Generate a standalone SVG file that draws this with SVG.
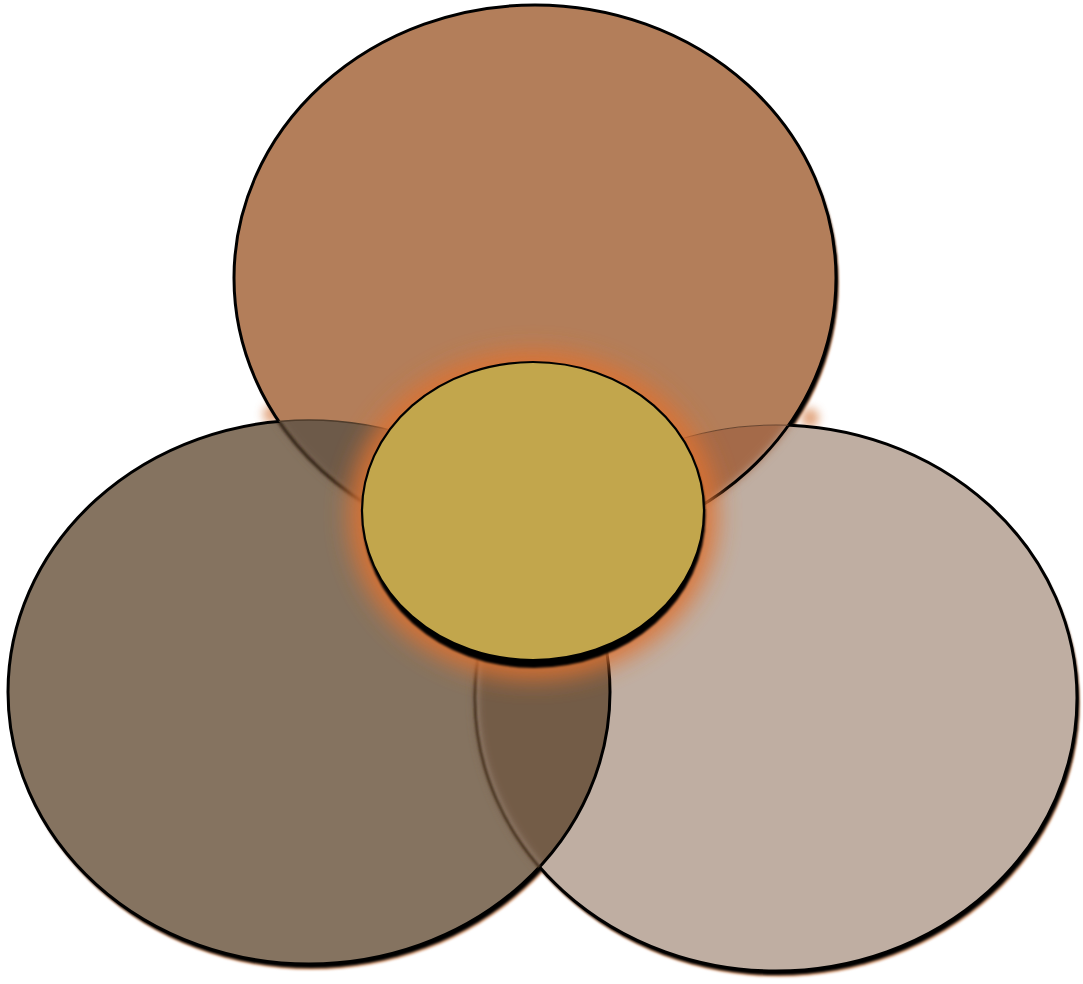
<svg xmlns="http://www.w3.org/2000/svg" width="1083" height="984" viewBox="0 0 1083 984">
  <defs>
    <style>
      .shO { fill: #D7A27F; }
      .shK { fill: #000000; }
      .edge { fill: none; stroke: #000; stroke-width: 3; }
    </style>
    <filter id="b1" x="-10%" y="-10%" width="120%" height="120%"><feGaussianBlur stdDeviation="1.2"/></filter>
    <filter id="b4" x="-10%" y="-10%" width="120%" height="120%"><feGaussianBlur stdDeviation="5"/></filter>
    <filter id="glow" x="-30%" y="-30%" width="160%" height="160%"><feGaussianBlur stdDeviation="12"/></filter>
    <filter id="glowS" x="-80%" y="-80%" width="260%" height="260%"><feGaussianBlur stdDeviation="5"/></filter>
    <ellipse id="eT" cx="535" cy="278" rx="301" ry="273"/>
    <ellipse id="eL" cx="309" cy="692" rx="301" ry="272"/>
    <ellipse id="eR" cx="776" cy="698" rx="301" ry="273"/>
    <clipPath id="cT"><use href="#eT"/></clipPath>
    <clipPath id="cL"><use href="#eL"/></clipPath>
    <clipPath id="cR"><use href="#eR"/></clipPath>
    <mask id="mOutL"><rect width="1083" height="984" fill="#fff"/><use href="#eL" fill="#000"/></mask>
    <mask id="mOutT"><rect width="1083" height="984" fill="#fff"/><use href="#eT" fill="#000"/></mask>
    <mask id="mOutTL"><rect width="1083" height="984" fill="#fff"/><use href="#eT" fill="#000"/><use href="#eL" fill="#000"/></mask>
  </defs>

  <!-- outer shadows and glows -->
  <g id="shadows">
    <ellipse cx="272" cy="414" rx="9" ry="10" fill="#D98A58" opacity="0.75" filter="url(#glowS)"/>
    <ellipse cx="810" cy="418" rx="9" ry="10" fill="#D98A58" opacity="0.75" filter="url(#glowS)"/>
    <use href="#eT" class="shO" transform="translate(3,6)" filter="url(#b1)"/>
    <use href="#eL" class="shO" transform="translate(3,6)" filter="url(#b1)"/>
    <use href="#eR" class="shO" transform="translate(3,6)" filter="url(#b1)"/>
    <use href="#eT" class="shK" transform="translate(2,4)" filter="url(#b1)"/>
    <use href="#eL" class="shK" transform="translate(2,4)" filter="url(#b1)"/>
    <use href="#eR" class="shK" transform="translate(2,4)" filter="url(#b1)"/>
  </g>

  <g id="circle-top"><use href="#eT" fill="#B37E5A"/></g>
  <g id="circle-left"><use href="#eL" fill="#857360"/></g>
  <g id="circle-right"><use href="#eR" fill="#BFAEA2"/></g>

  <!-- overlaps -->
  <g id="overlaps">
    <g clip-path="url(#cL)"><use href="#eT" fill="#6D5A48" filter="url(#b4)"/></g>
    <g clip-path="url(#cR)"><use href="#eT" fill="#A46B49" filter="url(#b4)"/></g>
    <g clip-path="url(#cL)"><use href="#eR" fill="#735B46" filter="url(#b4)"/></g>
  </g>

  <!-- edges -->
  <g id="edges">
    <use href="#eT" class="edge" mask="url(#mOutL)"/>
    <g clip-path="url(#cL)"><use href="#eT" fill="none" stroke="#3A2A1C" stroke-width="3.5" filter="url(#b1)"/></g>
    <use href="#eL" class="edge" mask="url(#mOutT)"/>
    <g clip-path="url(#cT)"><use href="#eL" fill="none" stroke="#4E3C2C" stroke-width="1.3"/></g>
    <use href="#eR" class="edge" mask="url(#mOutTL)"/>
    <g clip-path="url(#cT)"><use href="#eR" fill="none" stroke="#6A4630" stroke-width="1.1"/></g>
    <g clip-path="url(#cL)"><use href="#eR" fill="none" stroke="#4A3520" stroke-width="3" filter="url(#b1)"/></g>
  </g>

  <!-- center -->
  <g id="circle-center">
    <ellipse cx="533" cy="515" rx="184" ry="164" fill="#DD7232" opacity="0.95" filter="url(#glow)"/>
    <ellipse cx="534" cy="516" rx="171.5" ry="152" fill="#000" filter="url(#b1)"/>
    <ellipse cx="533" cy="511" rx="171" ry="149" fill="#C2A64C" stroke="#000" stroke-width="2.2"/>
  </g>
</svg>
